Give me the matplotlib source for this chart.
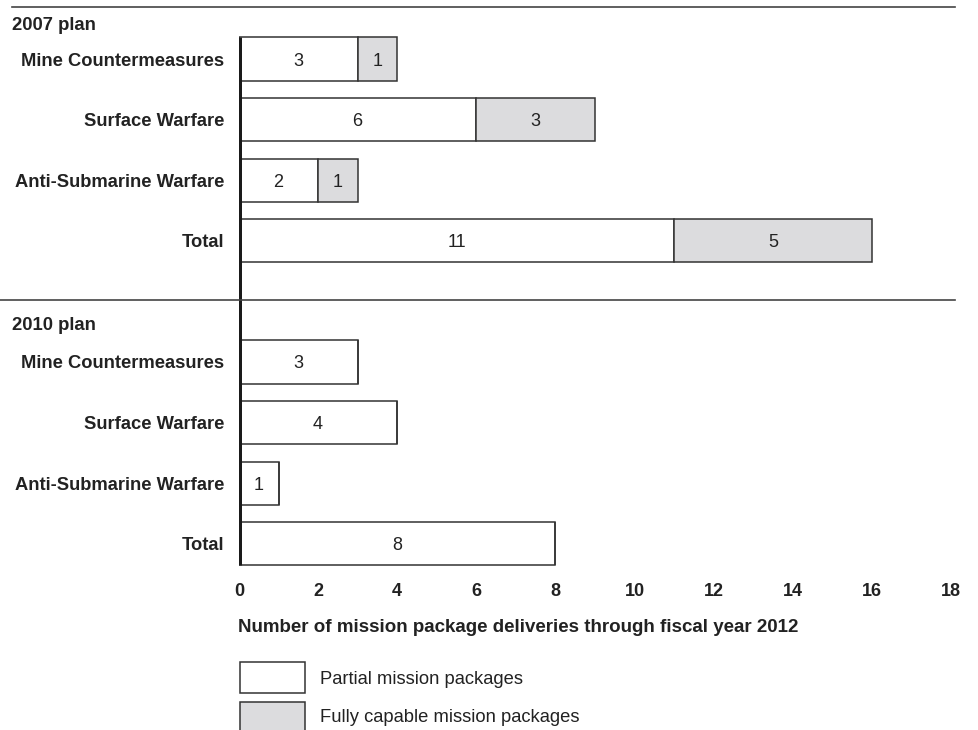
import matplotlib
matplotlib.use("Agg")
import matplotlib.pyplot as plt
from matplotlib.lines import Line2D
from matplotlib.patches import Rectangle

plt.rcParams['font.family'] = ['Liberation Sans', 'DejaVu Sans']

# data
categories = ['Mine Countermeasures', 'Surface Warfare', 'Anti-Submarine Warfare', 'Total']
plan_2007_partial = [3, 6, 2, 11]
plan_2007_full = [1, 3, 1, 5]
plan_2010_partial = [3, 4, 1, 8]
plan_2010_full = [0, 0, 0, 0]
xticks = list(range(0, 20, 2))
xlabel = 'Number of mission package deliveries through fiscal year 2012'
legend_labels = ['Partial mission packages', 'Fully capable mission packages']

W, H = 979, 730
GRAY = '#dcdcde'
EDGE = '#333333'
TXT = '#222222'

fig = plt.figure(figsize=(W / 100, H / 100), dpi=100)

# axes placed by pixel: x 0..18 -> 239..951 px, y unit = 60.6 px, y=0 at 59 px
unit = 60.6
y0_px = 59
top_px, bot_px = 0, 570
ax = fig.add_axes([239 / W, 1 - bot_px / H, 712 / W, (bot_px - top_px) / H])
ax.set_xlim(0, 18)
ax.set_ylim((bot_px - y0_px) / unit, (top_px - y0_px) / unit)
for s in ax.spines.values():
    s.set_visible(False)

bar_h = 0.71
pos_2007 = [0, 1, 2, 3]
pos_2010 = [5, 6, 7, 8]


def draw_group(pos, partial, full):
    ax.barh(pos, partial, height=bar_h, color='white', edgecolor=EDGE, linewidth=1.1, zorder=2)
    ax.barh(pos, full, left=partial, height=bar_h, color=GRAY, edgecolor=EDGE, linewidth=1.1, zorder=2)
    for y, p, f in zip(pos, partial, full):
        if p:
            ax.text(p / 2, y, str(p), ha='center', va='center_baseline', fontsize=13, color=TXT)
        if f:
            ax.text(p + f / 2, y, str(f), ha='center', va='center_baseline', fontsize=13, color=TXT)


draw_group(pos_2007, plan_2007_partial, plan_2007_full)
draw_group(pos_2010, plan_2010_partial, plan_2010_full)

ax.set_yticks(pos_2007 + pos_2010)
ax.set_yticklabels(categories + categories, fontsize=13.2, fontweight='bold', color=TXT)
for lab in ax.get_yticklabels():
    lab.set_va('center_baseline')
ax.set_xticks(xticks)
ax.set_xticklabels([str(t) for t in xticks], fontsize=13, fontweight='bold', color=TXT)
ax.tick_params(axis='both', length=0)
ax.tick_params(axis='x', pad=9)
ax.tick_params(axis='y', pad=10.8)

# thick vertical axis line
ax.vlines(0, pos_2007[0] - bar_h / 2, pos_2010[-1] + bar_h / 2, color='#1a1a1a', lw=3.6, zorder=3)

# separator lines
fig.add_artist(Line2D([12 / W, 955 / W], [1 - 7 / H, 1 - 7 / H], color='#444444', lw=1.2))
fig.add_artist(Line2D([0, 955 / W], [1 - 300 / H, 1 - 300 / H], color='#444444', lw=1.2))

# section headers
fig.text(12 / W, 1 - 24 / H, '2007 plan', fontsize=13.3, fontweight='bold', color=TXT, va='center_baseline')
fig.text(12 / W, 1 - 324 / H, '2010 plan', fontsize=13.3, fontweight='bold', color=TXT, va='center_baseline')

# x label
fig.text(238 / W, 1 - 626 / H, xlabel, fontsize=13.5, fontweight='bold', color=TXT, va='center_baseline')

# legend
for (ytop, ybot), ty, fc, lab in zip([(662, 693), (702, 736)], [678, 716], ['white', GRAY], legend_labels):
    fig.add_artist(Rectangle((240 / W, 1 - ybot / H), 65 / W, (ybot - ytop) / H,
                             transform=fig.transFigure, facecolor=fc, edgecolor=EDGE, lw=1.1))
    fig.text(320 / W, 1 - ty / H, lab, fontsize=13.2, color=TXT, va='center_baseline')

fig.savefig('out.png', dpi=100)
